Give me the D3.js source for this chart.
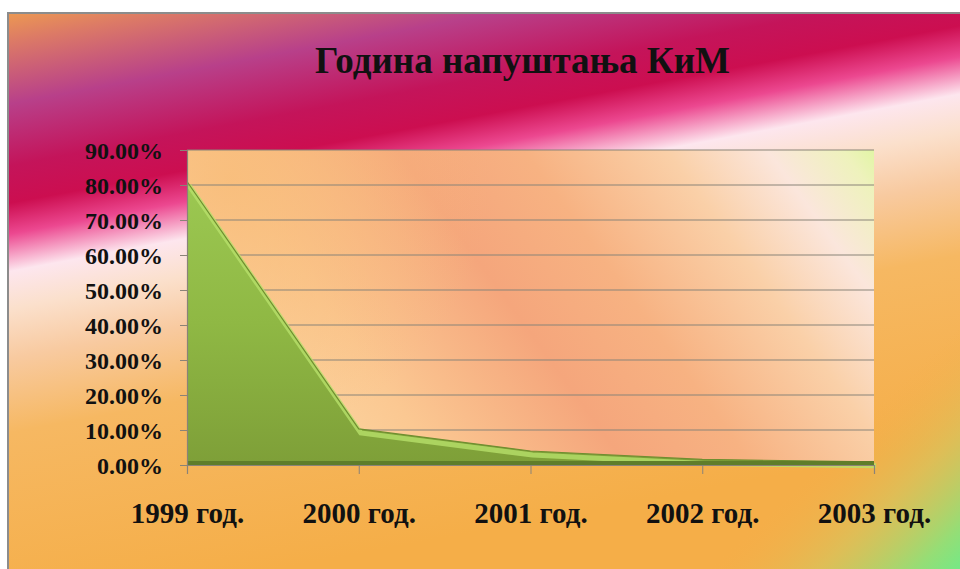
<!DOCTYPE html>
<html>
<head>
<meta charset="utf-8">
<script src="https://cdn.jsdelivr.net/npm/d3@7"></script>
<style>
  body { margin: 0; background: #fff; }
  text { font-family: "Liberation Serif", "Times New Roman", serif; font-weight: bold; }
</style>
</head>
<body>
<script>
const years = ["1999 год.", "2000 год.", "2001 год.", "2002 год.", "2003 год."];
const shares = [0.81, 0.103, 0.04, 0.016, 0.009];
const yTicks = [0, 0.1, 0.2, 0.3, 0.4, 0.5, 0.6, 0.7, 0.8, 0.9];
const title = "Година напуштања КиМ";

const w = 960, h = 569;
const plot = { left: 187, right: 874, top: 150, bottom: 465 };

const svg = d3.select("body")
  .append("svg")
  .attr("width", w)
  .attr("height", h);

const defs = svg.append("defs");

// slide background, diagonal bands
const bg = defs.append("linearGradient")
  .attr("id", "bg")
  .attr("gradientUnits", "userSpaceOnUse")
  .attr("x1", 0).attr("y1", 0)
  .attr("x2", 112).attr("y2", 600);
[
  [0.00, "#f4a848"],
  [0.07, "#dc7a66"],
  [0.17, "#b8408a"],
  [0.27, "#c4145a"],
  [0.33, "#cc0e50"],
  [0.38, "#ec4890"],
  [0.44, "#fde6ee"],
  [0.50, "#fbe0cc"],
  [0.58, "#f8caa0"],
  [0.70, "#f6b862"],
  [1.00, "#f5ae48"]
].forEach(([o, c]) => bg.append("stop").attr("offset", o).attr("stop-color", c));

// green corner bottom right
const green = defs.append("linearGradient")
  .attr("id", "corner")
  .attr("gradientUnits", "userSpaceOnUse")
  .attr("x1", 830).attr("y1", 450)
  .attr("x2", 965).attr("y2", 590);
green.append("stop").attr("offset", 0).attr("stop-color", "#f5ae48").attr("stop-opacity", 0);
green.append("stop").attr("offset", 0.4).attr("stop-color", "#d0c860").attr("stop-opacity", 0.6);
green.append("stop").attr("offset", 0.75).attr("stop-color", "#90e078").attr("stop-opacity", 0.95);
green.append("stop").attr("offset", 1).attr("stop-color", "#60f090").attr("stop-opacity", 1);

// plot area gradient, bands running top-left to bottom-right
const pg = defs.append("linearGradient")
  .attr("id", "plotbg")
  .attr("gradientUnits", "userSpaceOnUse")
  .attr("x1", 330).attr("y1", 520)
  .attr("x2", 880).attr("y2", 120);
[
  [0.00, "#fcd8a2"],
  [0.18, "#fbc892"],
  [0.40, "#f5a67c"],
  [0.55, "#f7b282"],
  [0.72, "#fad0a8"],
  [0.84, "#fbe6dc"],
  [0.93, "#eef2bc"],
  [1.00, "#d6f890"]
].forEach(([o, c]) => pg.append("stop").attr("offset", o).attr("stop-color", c));

const pg2 = defs.append("radialGradient")
  .attr("id", "plotwarm")
  .attr("gradientUnits", "userSpaceOnUse")
  .attr("cx", 230).attr("cy", 180).attr("r", 260);
pg2.append("stop").attr("offset", 0).attr("stop-color", "#f8bc78").attr("stop-opacity", 0.8);
pg2.append("stop").attr("offset", 1).attr("stop-color", "#f8bc78").attr("stop-opacity", 0);

const ag = defs.append("linearGradient")
  .attr("id", "areafill")
  .attr("x1", 0).attr("y1", 0).attr("x2", 0).attr("y2", 1);
ag.append("stop").attr("offset", 0).attr("stop-color", "#9cc852");
ag.append("stop").attr("offset", 0.5).attr("stop-color", "#8fb844");
ag.append("stop").attr("offset", 1).attr("stop-color", "#7e9f38");

// background + frame
svg.append("rect").attr("x", 8).attr("y", 13).attr("width", w).attr("height", h)
  .attr("fill", "url(#bg)");
svg.append("rect").attr("x", 8).attr("y", 13).attr("width", w).attr("height", h)
  .attr("fill", "url(#corner)");
svg.append("rect").attr("x", 8).attr("y", 13).attr("width", w).attr("height", h)
  .attr("fill", "none").attr("stroke", "#8c8c8c").attr("stroke-width", 2);

const x = d3.scalePoint().domain(years).range([plot.left, plot.right]);
const y = d3.scaleLinear().domain([0, 0.9]).range([plot.bottom, plot.top]);

svg.append("rect")
  .attr("x", plot.left).attr("y", plot.top)
  .attr("width", plot.right - plot.left).attr("height", plot.bottom - plot.top)
  .attr("fill", "url(#plotbg)");
svg.append("rect")
  .attr("x", plot.left).attr("y", plot.top)
  .attr("width", plot.right - plot.left).attr("height", plot.bottom - plot.top)
  .attr("fill", "url(#plotwarm)");

// gridlines
svg.append("g")
  .selectAll("line")
  .data(yTicks.slice(1))
  .enter()
  .append("line")
  .attr("x1", plot.left).attr("x2", plot.right)
  .attr("y1", d => y(d)).attr("y2", d => y(d))
  .attr("stroke", "#8a8378").attr("stroke-width", 1.2);

const data = years.map((yr, i) => ({ yr, v: shares[i] }));

const area = d3.area()
  .x(d => x(d.yr))
  .y0(plot.bottom)
  .y1(d => y(d.v));
const line = d3.line()
  .x(d => x(d.yr))
  .y(d => y(d.v));

svg.append("path")
  .datum(data)
  .attr("d", area)
  .attr("fill", "url(#areafill)");

// bevel highlight along the top edge
svg.append("path")
  .datum(data)
  .attr("d", line)
  .attr("fill", "none")
  .attr("stroke", "#b6e06a")
  .attr("stroke-width", 5)
  .attr("transform", "translate(2,4)")
  .attr("opacity", 0.8);
svg.append("path")
  .datum(data)
  .attr("d", line)
  .attr("fill", "none")
  .attr("stroke", "#6f8e30")
  .attr("stroke-width", 1.2);

// dark base strip
svg.append("rect")
  .attr("x", plot.left).attr("y", plot.bottom - 4)
  .attr("width", plot.right - plot.left).attr("height", 4)
  .attr("fill", "#5f7d2a");

// axes
const yAxis = d3.axisLeft(y).tickValues(yTicks).tickSize(7).tickFormat(d => (d * 100).toFixed(2) + "%");
const yg = svg.append("g").attr("transform", `translate(${plot.left},0)`).call(yAxis);
yg.select(".domain").attr("stroke", "#8a8378").attr("stroke-width", 1.2);
yg.selectAll(".tick line").attr("stroke", "#8a8378");
yg.selectAll(".tick text")
  .attr("x", -24)
  .attr("dy", "0.34em")
  .attr("fill", "#111")
  .style("font-size", "24px")
  .style("font-family", "Liberation Serif");

const xAxis = d3.axisBottom(x).tickSize(9).tickFormat(d => d);
const xg = svg.append("g").attr("transform", `translate(0,${plot.bottom})`).call(xAxis);
xg.select(".domain").attr("stroke", "#8a8378").attr("stroke-width", 1.2);
xg.selectAll(".tick line").attr("stroke", "#8a8378");
xg.selectAll(".tick text")
  .attr("y", 58)
  .attr("dy", 0)
  .attr("fill", "#111")
  .style("font-size", "29px")
  .style("font-family", "Liberation Serif");

svg.append("text")
  .attr("x", 315).attr("y", 73)
  .attr("textLength", 415)
  .attr("lengthAdjust", "spacingAndGlyphs")
  .attr("fill", "#111")
  .style("font-size", "38px")
  .text(title);
</script>
</body>
</html>
